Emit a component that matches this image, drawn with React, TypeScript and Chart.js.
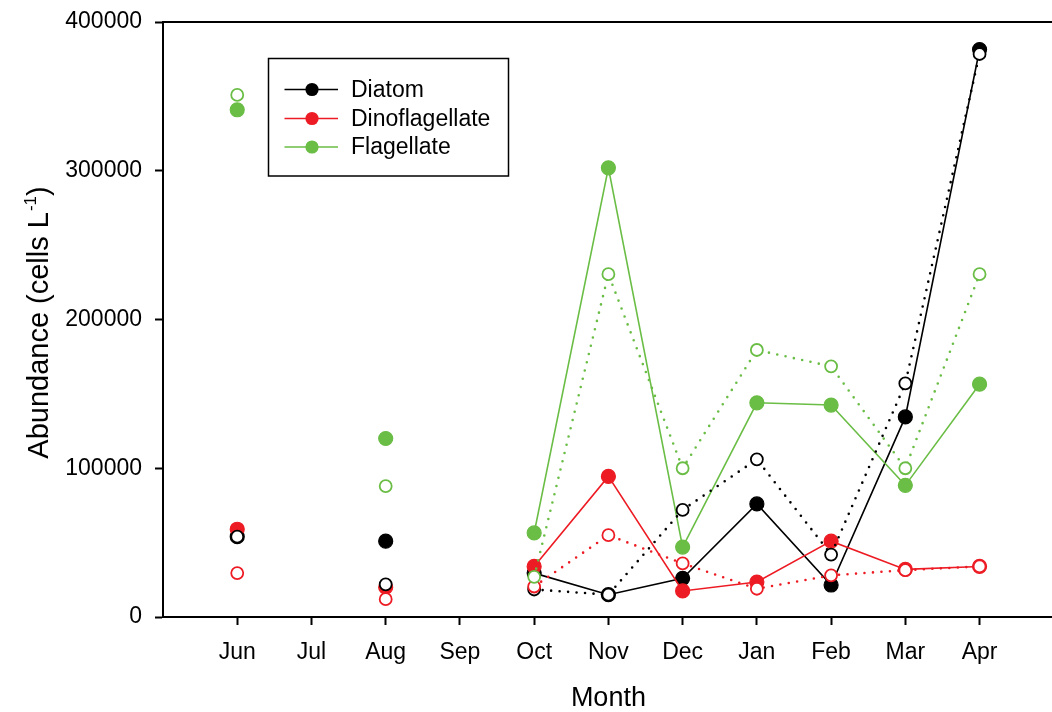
import React, { useEffect, useRef } from 'react';
import { Chart, registerables } from 'chart.js';

Chart.register(...registerables);

// ---------- data ----------
const months = ['Jun', 'Jul', 'Aug', 'Sep', 'Oct', 'Nov', 'Dec', 'Jan', 'Feb', 'Mar', 'Apr'];
const seriesNames = ['Diatom', 'Dinoflagellate', 'Flagellate'];
const yTicks = [0, 100000, 200000, 300000, 400000];

// filled symbols, solid lines
const diatomFilled = [54000, null, 51000, null, 29500, 15000, 26000, 76000, 21500, 134500, 381500];
const dinoFilled = [59000, null, 20000, null, 34000, 94500, 17500, 23500, 51000, 32000, 34000];
const flagFilled = [341000, null, 120000, null, 56500, 302000, 47000, 144000, 142500, 88500, 156500];

// open symbols, dotted lines
const diatomOpen = [54000, null, 22000, null, 18500, 15000, 72000, 106000, 42000, 157000, 378500];
const dinoOpen = [29500, null, 12000, null, 20500, 55000, 36000, 19000, 28000, 31500, 34000];
const flagOpen = [351000, null, 88000, null, 27000, 230500, 100000, 179500, 168500, 100000, 230500];

const BLACK = '#000000';
const RED = '#ed1c24';
const GREEN = '#6abd45';
const colors = [BLACK, RED, GREEN];
const FONT = '"Liberation Sans", Arial, Helvetica, sans-serif';

const toPoints = (vals: (number | null)[]) => vals.map((v, i) => ({ x: i, y: v }));

function filledSet(label: string, vals: (number | null)[], color: string, order: number) {
  return {
    label,
    data: toPoints(vals),
    borderColor: color,
    backgroundColor: color,
    borderWidth: 1.6,
    pointRadius: 7,
    pointBorderWidth: 1.2,
    pointBackgroundColor: color,
    pointBorderColor: color,
    spanGaps: false,
    tension: 0,
    order,
  };
}

function openSet(label: string, vals: (number | null)[], color: string, order: number) {
  return {
    label,
    data: toPoints(vals),
    borderColor: color,
    backgroundColor: '#ffffff',
    borderWidth: 2.6,
    borderDash: [0, 8.5],
    borderCapStyle: 'round' as const,
    pointRadius: 6,
    pointBorderWidth: 1.8,
    pointBackgroundColor: '#ffffff',
    pointBorderColor: color,
    spanGaps: false,
    tension: 0,
    order,
  };
}

const framePlugin = {
  id: 'frameAndLegend',
  afterDraw(chart: any) {
    const { ctx, chartArea } = chart;
    ctx.save();
    // top and right frame lines
    ctx.strokeStyle = '#000';
    ctx.lineWidth = 2;
    ctx.beginPath();
    ctx.moveTo(chartArea.left - 1, chartArea.top);
    ctx.lineTo(chartArea.right, chartArea.top);
    ctx.lineTo(chartArea.right, chartArea.bottom);
    ctx.stroke();

    // legend
    const lx = chartArea.left + 105.5;
    const ly = chartArea.top + 36.5;
    ctx.lineWidth = 1.5;
    ctx.strokeRect(lx, ly, 240, 117.5);
    const rowY = [31, 60, 88.5];
    seriesNames.forEach((name, i) => {
      const y = ly + rowY[i];
      ctx.strokeStyle = colors[i];
      ctx.lineWidth = 1.6;
      ctx.beginPath();
      ctx.moveTo(lx + 16, y);
      ctx.lineTo(lx + 69.5, y);
      ctx.stroke();
      ctx.fillStyle = colors[i];
      ctx.beginPath();
      ctx.arc(lx + 43.5, y, 6.6, 0, Math.PI * 2);
      ctx.fill();
      ctx.fillStyle = '#000';
      ctx.font = `23px ${FONT}`;
      ctx.textBaseline = 'middle';
      ctx.textAlign = 'left';
      ctx.fillText(name, lx + 82.5, y + 1);
    });

    // y axis title with superscript
    const main1 = 'Abundance (cells L';
    const sup = '-1';
    const main2 = ')';
    const bigFont = `29px ${FONT}`;
    const smallFont = `17px ${FONT}`;
    ctx.font = bigFont;
    const w1 = ctx.measureText(main1).width;
    const w3 = ctx.measureText(main2).width;
    ctx.font = smallFont;
    const w2 = ctx.measureText(sup).width;
    const total = w1 + w2 + w3 + 1;
    const cy = (chartArea.top + chartArea.bottom) / 2 + 3;
    ctx.translate(48, cy);
    ctx.rotate(-Math.PI / 2);
    ctx.fillStyle = '#000';
    ctx.textBaseline = 'alphabetic';
    ctx.textAlign = 'left';
    let x = -total / 2;
    ctx.font = bigFont;
    ctx.fillText(main1, x, 0);
    x += w1 + 1;
    ctx.font = smallFont;
    ctx.fillText(sup, x, -12);
    x += w2;
    ctx.font = bigFont;
    ctx.fillText(main2, x, 0);
    ctx.restore();
  },
};

export default function App() {
  const ref = useRef<HTMLCanvasElement | null>(null);

  useEffect(() => {
    if (!ref.current) return;
    const chart = new Chart(ref.current, {
      type: 'line',
      data: {
        datasets: [
          openSet(seriesNames[2] + ' (open)', flagOpen, GREEN, 1),
          openSet(seriesNames[1] + ' (open)', dinoOpen, RED, 2),
          openSet(seriesNames[0] + ' (open)', diatomOpen, BLACK, 3),
          filledSet(seriesNames[2], flagFilled, GREEN, 4),
          filledSet(seriesNames[1], dinoFilled, RED, 5),
          filledSet(seriesNames[0], diatomFilled, BLACK, 6),
        ] as any,
      },
      options: {
        responsive: false,
        animation: false,
        devicePixelRatio: 1,
        layout: { padding: { top: 22, right: 1, left: 0, bottom: 0 } },
        plugins: {
          legend: { display: false },
          tooltip: { enabled: false },
          title: { display: false },
        },
        scales: {
          x: {
            type: 'linear',
            position: 'bottom',
            min: -1,
            max: 11,
            afterBuildTicks: (scale: any) => {
              scale.ticks = months.map((_, i) => ({ value: i }));
            },
            afterFit: (scale: any) => {
              scale.height = 95;
              scale.paddingLeft = 0;
              scale.paddingRight = 0;
            },
            ticks: {
              autoSkip: false,
              maxRotation: 0,
              padding: 14,
              color: '#000',
              font: { family: FONT, size: 23 },
              callback: (v: any) => months[Number(v)] ?? '',
            },
            grid: {
              drawOnChartArea: false,
              drawTicks: true,
              tickLength: 8,
              tickWidth: 2,
              tickColor: '#000',
            },
            border: { display: true, color: '#000', width: 2 },
            title: {
              display: true,
              text: 'Month',
              color: '#000',
              font: { family: FONT, size: 27, lineHeight: 1 },
              padding: { top: 0, bottom: 0 },
            },
          },
          y: {
            type: 'linear',
            min: 0,
            max: 400000,
            afterBuildTicks: (scale: any) => {
              scale.ticks = yTicks.map((v) => ({ value: v }));
            },
            afterFit: (scale: any) => {
              scale.width = 163;
              scale.paddingTop = 0;
              scale.paddingBottom = 0;
            },
            ticks: {
              padding: 13,
              color: '#000',
              font: { family: FONT, size: 23 },
              callback: (v: any) => String(v),
            },
            grid: {
              drawOnChartArea: false,
              drawTicks: true,
              tickLength: 8,
              tickWidth: 2,
              tickColor: '#000',
            },
            border: { display: true, color: '#000', width: 2 },
          },
        },
      } as any,
      plugins: [framePlugin],
    });
    return () => chart.destroy();
  }, []);

  return (
    <div
      style={{
        position: 'fixed',
        left: 0,
        top: 0,
        width: 1052,
        height: 712,
        overflow: 'hidden',
        background: '#ffffff',
      }}
    >
      <canvas ref={ref} width={1062} height={712} style={{ display: 'block', width: 1062, height: 712 }} />
    </div>
  );
}
